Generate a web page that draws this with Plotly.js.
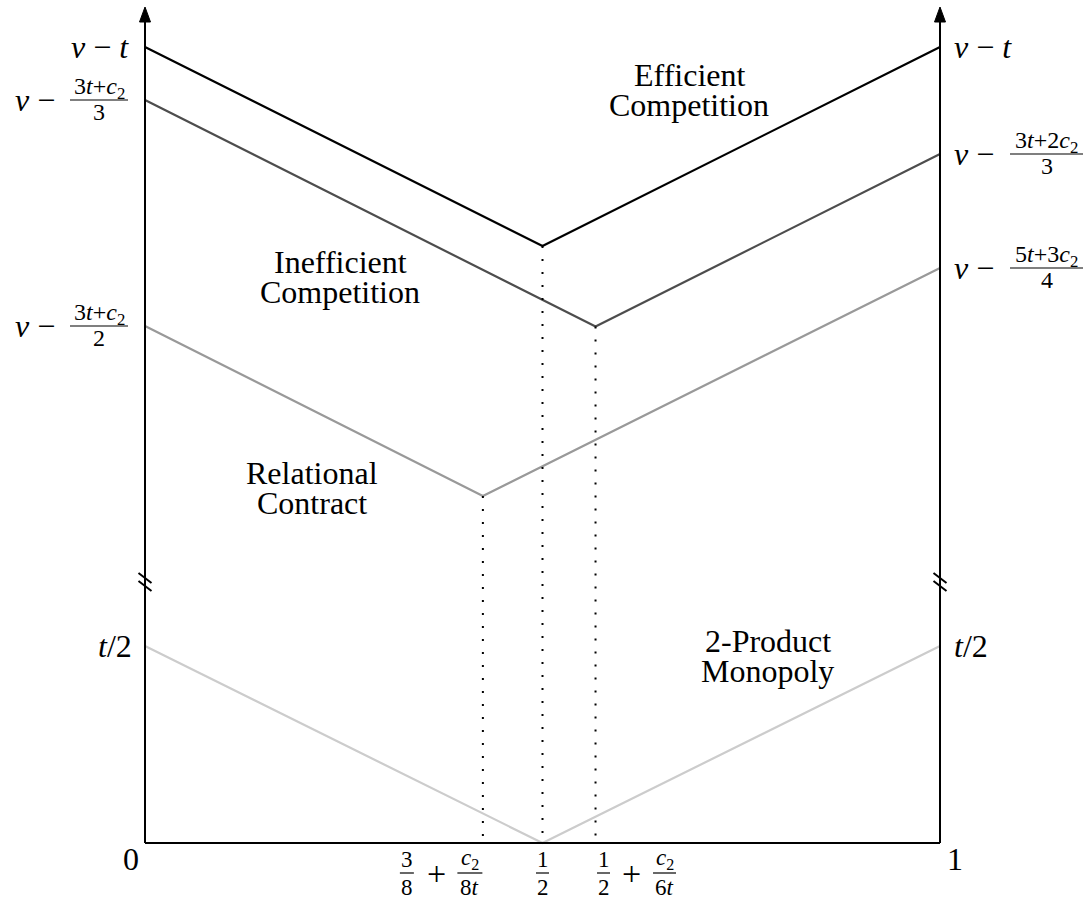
<!DOCTYPE html>
<html>
<head>
<meta charset="utf-8">
<script src="https://cdn.plot.ly/plotly-3.0.1.min.js"></script>
<style>html,body{margin:0;padding:0;background:#fff;}#chart{width:1088px;height:901px;}</style>
</head>
<body>
<div id="chart"></div>
<script>
// ---- data (schematic units: x in [0,1], y in arbitrary vertical units) ----
const effX   = [0, 0.5, 1];
const effY   = [796, 597, 796];
const ineffX = [0, 0.5667, 1];
const ineffY = [743, 516.5, 689];
const relX   = [0, 0.425, 1];
const relY   = [517, 347, 575];
const monoX  = [0, 0.5, 1];
const monoY  = [197, 0, 197];
const axisTop = 836;
const breakY = [265, 257];

const regionLabels = [
  {lines: ['Efficient', 'Competition'], x: 0.6843, y: 768},
  {lines: ['Inefficient', 'Competition'], x: 0.2453, y: 581},
  {lines: ['Relational', 'Contract'], x: 0.2100, y: 370},
  {lines: ['2-Product', 'Monopoly'], x: 0.7836, y: 202}
];

const colors = ['#000000', '#4d4d4d', '#999999', '#cccccc'];
const FONT = '"Liberation Serif", "Times New Roman", "DejaVu Serif", serif';
const PXU = 795;               // pixels per x unit
const dx = p => p / PXU;       // pixel offset -> x units (y units are pixels)

// ---- traces ----
const traces = [];
const series = [[effX, effY], [ineffX, ineffY], [relX, relY], [monoX, monoY]];
series.forEach((s, i) => traces.push({
  x: s[0], y: s[1], type: 'scatter', mode: 'lines',
  line: {color: colors[i], width: 2.2}, hoverinfo: 'skip', cliponaxis: false
}));
// dotted drop lines from the kinks
[[effX, effY], [ineffX, ineffY], [relX, relY]].forEach(s => traces.push({
  x: [s[0][1], s[0][1]], y: [s[1][1], 0], type: 'scatter', mode: 'lines',
  line: {color: '#000', width: 2, dash: '2px,11px'}, hoverinfo: 'skip'
}));

// ---- shapes (axes, arrows, break marks, fraction bars) ----
const shapes = [];
const ln = (x0, y0, x1, y1, w) => shapes.push({type: 'line', xref: 'x', yref: 'y',
  x0, y0, x1, y1, line: {color: '#000', width: w}});
ln(0, 0, 1, 0, 2);
[0, 1].forEach(ax => {
  ln(ax, 0, ax, axisTop - 12, 2);
  shapes.push({type: 'path', xref: 'x', yref: 'y',
    path: `M ${ax - dx(5.5)} ${axisTop - 15} L ${ax} ${axisTop} L ${ax + dx(5.5)} ${axisTop - 15} Z`,
    fillcolor: '#000', line: {color: '#000', width: 1}});
  breakY.forEach(by => ln(ax - dx(6.5), by + 5, ax + dx(6.5), by - 5, 2));
});

// ---- annotations ----
const annotations = [];
const txt = (x, y, text, size, xanchor) => annotations.push({
  x, y, xref: 'x', yref: 'y', text, showarrow: false, xanchor: xanchor || 'center',
  yanchor: 'middle', font: {family: FONT, size: size || 32, color: '#000'}});
const frac = (xc, yc, num, den, size, hw, off) => {
  txt(xc, yc + off, num, size);
  txt(xc, yc - off, den, size);
  ln(xc - dx(hw), yc, xc + dx(hw), yc, 1.2);
};
const V = '<i>v</i> −';

// left labels
txt(dx(-14), effY[0], '<i>v</i> − <i>t</i>', 32, 'right');
txt(dx(-88), ineffY[0], V, 32, 'right');
frac(dx(-46), ineffY[0], '3<i>t</i>+<i>c</i><sub>2</sub>', '3', 24, 29, 12);
txt(dx(-88), relY[0], V, 32, 'right');
frac(dx(-46), relY[0], '3<i>t</i>+<i>c</i><sub>2</sub>', '2', 24, 29, 12);
txt(dx(-11), monoY[0], '<i>t</i>/2', 32, 'right');
// right labels
txt(1 + dx(12), effY[2], '<i>v</i> − <i>t</i>', 32, 'left');
txt(1 + dx(12), ineffY[2], V, 32, 'left');
frac(1 + dx(106.5), ineffY[2], '3<i>t</i>+2<i>c</i><sub>2</sub>', '3', 24, 36.5, 12);
txt(1 + dx(12), relY[2], V, 32, 'left');
frac(1 + dx(106.5), relY[2], '5<i>t</i>+3<i>c</i><sub>2</sub>', '4', 24, 36.5, 12);
txt(1 + dx(12), monoY[2], '<i>t</i>/2', 32, 'left');
// x labels
txt(dx(-14), -16, '0', 32);
txt(1 + dx(15), -16, '1', 32);
const fy = -30;
frac(relX[1] + dx(-76), fy, '3', '8', 23, 7, 14);
txt(relX[1] + dx(-46), fy, '+', 34);
frac(relX[1] + dx(-13), fy, '<i>c</i><sub>2</sub>', '8<i>t</i>', 23, 12.5, 14);
frac(effX[1], fy, '1', '2', 23, 6.5, 14);
frac(ineffX[1] + dx(8), fy, '1', '2', 23, 6.5, 14);
txt(ineffX[1] + dx(36), fy, '+', 34);
frac(ineffX[1] + dx(69), fy, '<i>c</i><sub>2</sub>', '6<i>t</i>', 23, 11.5, 14);
// region labels
regionLabels.forEach(r => {
  txt(r.x, r.y, r.lines[0], 32);
  txt(r.x, r.y - 30, r.lines[1], 32);
});

const layout = {
  width: 1088, height: 901, autosize: false,
  margin: {l: 0, r: 0, t: 0, b: 0},
  paper_bgcolor: '#fff', plot_bgcolor: '#fff',
  showlegend: false,
  xaxis: {range: [-145 / PXU, 943 / PXU], visible: false, fixedrange: true},
  yaxis: {range: [-58, 843], visible: false, fixedrange: true},
  shapes, annotations
};
Plotly.newPlot('chart', traces, layout, {staticPlot: true});
</script>
</body>
</html>
